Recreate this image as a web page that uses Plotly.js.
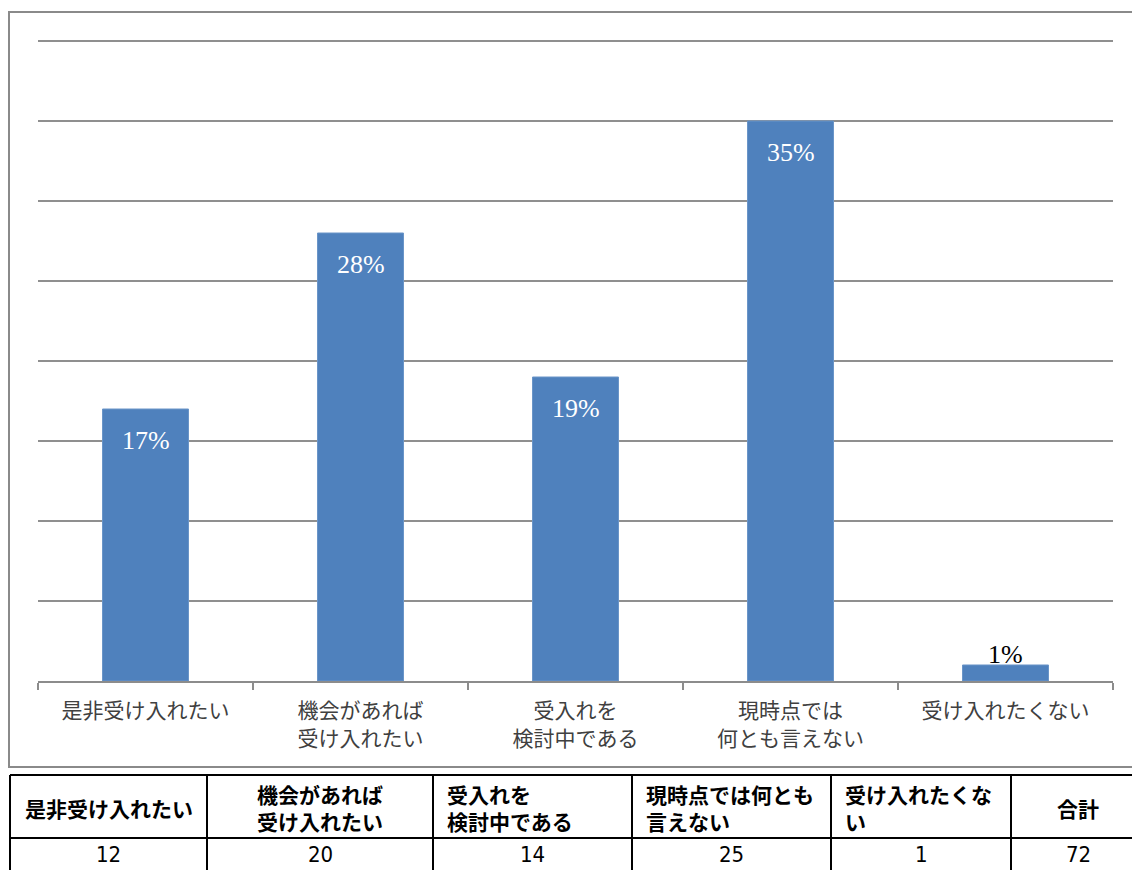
<!DOCTYPE html>
<html>
<head>
<meta charset="utf-8">
<script src="https://cdn.plot.ly/plotly-3.0.1.min.js"></script>
<style>
html, body { margin:0; padding:0; overflow:hidden; background:#fff; width:1132px; height:870px; }
#chart { width:1145px; height:880px; }
</style>
</head>
<body>
<div id="chart"></div>
<script>
// ---- data ----
const categories = ['是非受け入れたい', '機会があれば<br>受け入れたい', '受入れを<br>検討中である', '現時点では<br>何とも言えない', '受け入れたくない'];
const percentValues = [17, 28, 19, 35, 1];
const percentLabels = ['17%', '28%', '19%', '35%', '1%'];
const tableHeaders = ['是非受け入れたい', '機会があれば<br>受け入れたい', '受入れを<br>検討中である', '現時点では何とも<br>言えない', '受け入れたくな<br>い', '合計'];
const tableCounts = [12, 20, 14, 25, 1, 72];

// ---- layout constants (pixels) ----
const W = 1145, H = 880;
const px = x => x / W;
const py = y => 1 - y / H;

const colEdges = [10, 207, 433, 632, 831, 1011, 1145];
const rowEdges = [775, 838, 900];
const headerAlign = ['center', 'center', 'left', 'left', 'left', 'center'];

const barTrace = {
  type: 'bar',
  x: categories,
  y: percentValues,
  width: 0.4,
  marker: { color: '#4F81BD', line: { color: '#6A95C8', width: 1 } },
  hoverinfo: 'skip',
  xaxis: 'x', yaxis: 'y'
};

const annotations = percentValues.map((v, i) => {
  const inside = v >= 5;
  return {
    x: categories[i], y: v, xref: 'x', yref: 'y',
    text: percentLabels[i],
    showarrow: false,
    yanchor: 'middle',
    yshift: inside ? -31 : 11,
    font: { family: '"Liberation Serif", "Times New Roman", serif', size: 26, color: inside ? '#ffffff' : '#000000' }
  };
});

const tableFont = '"Noto Sans CJK JP", sans-serif';
tableHeaders.forEach((h, i) => {
  const left = colEdges[i], right = colEdges[i + 1];
  const isLeft = headerAlign[i] === 'left';
  annotations.push({
    xref: 'paper', yref: 'paper',
    x: px(isLeft ? left + 12 : (left + right) / 2),
    y: py((rowEdges[0] + rowEdges[1]) / 2 + 1),
    xanchor: isLeft ? 'left' : 'center', yanchor: 'middle', align: isLeft ? 'left' : 'center',
    text: '<b>' + h + '</b>', showarrow: false,
    font: { family: tableFont, size: 21, color: '#000' }
  });
});
tableCounts.forEach((c, i) => {
  const left = colEdges[i], right = colEdges[i + 1];
  annotations.push({
    xref: 'paper', yref: 'paper',
    x: px((left + right) / 2), y: py(rowEdges[1] + 16),
    xanchor: 'center', yanchor: 'middle',
    text: String(c), showarrow: false,
    font: { family: '"Liberation Sans Narrow", "DejaVu Sans Condensed", "Noto Sans CJK JP", sans-serif', size: 22, color: '#000' }
  });
});

const shapes = [{
  type: 'rect', xref: 'paper', yref: 'paper',
  x0: px(9), x1: 1.02, y0: py(767), y1: py(12),
  line: { color: '#8a8a8a', width: 2 }, fillcolor: 'rgba(0,0,0,0)', layer: 'below'
}];
// table grid
rowEdges.forEach(y => shapes.push({
  type: 'line', xref: 'paper', yref: 'paper',
  x0: px(colEdges[0]), x1: 1.02, y0: py(y), y1: py(y),
  line: { color: '#000', width: 2 }
}));
colEdges.forEach(x => shapes.push({
  type: 'line', xref: 'paper', yref: 'paper',
  x0: px(x), x1: px(x), y0: py(rowEdges[0]), y1: py(rowEdges[2]),
  line: { color: '#000', width: 2 }
}));

const layout = {
  width: W, height: H,
  margin: { l: 0, r: 0, t: 0, b: 0 },
  paper_bgcolor: '#fff', plot_bgcolor: '#fff',
  showlegend: false,
  bargap: 0.6,
  xaxis: {
    domain: [px(38), px(1113)],
    type: 'category',
    showgrid: false,
    showline: true, linecolor: '#8c8c8c', linewidth: 2,
    ticks: 'outside', tickson: 'boundaries', ticklen: 7, tickcolor: '#8c8c8c', tickwidth: 2,
    ticklabelstandoff: 10,
    tickfont: { family: '"Noto Sans CJK JP", sans-serif', size: 21, color: '#404040' },
    fixedrange: true
  },
  yaxis: {
    domain: [py(681), py(39.4)],
    range: [0, 40.1],
    tick0: 0,
    dtick: 5,
    showgrid: true, gridcolor: '#8f8f8f', gridwidth: 2,
    zeroline: false,
    showticklabels: false,
    ticks: '',
    fixedrange: true
  },
  shapes: shapes,
  annotations: annotations
};

Plotly.newPlot('chart', [barTrace], layout, { displayModeBar: false, staticPlot: true });
</script>
</body>
</html>
